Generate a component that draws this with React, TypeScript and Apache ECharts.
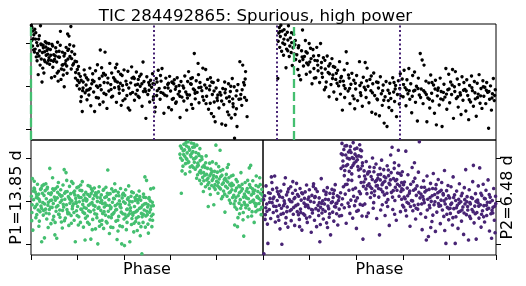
import React, { useEffect, useRef } from "react";
import * as echarts from "echarts";

const TITLE = "TIC 284492865: Spurious, high power";
const P1_LABEL = "P1=13.85 d";
const P2_LABEL = "P2=6.48 d";
const X_NAME = "Phase";
const P1_EPOCHS = [0, 13.85];
const P2_EPOCHS = [6.48, 12.96, 19.44];
const FLUX_TICKS = [-10, 0, 10];
const GREEN = "#44bf70";
const PURPLE = "#482475";

// [time (d), relative flux]
const lightCurve: number[][] = [
[0.02,14.1],[0.05,13.6],[0.1,12.8],[0.15,11.9],[0.2,13.2],[0.25,12.4],[0.3,10.1],[0.35,9.4],[0.4,10.9],[0.45,8.2],[0.5,14.0],[0.55,9.6],[0.6,7.8],[0.65,8.9],[0.7,6.1],[0.75,10.3],[0.8,7.2],[0.85,5.4],[0.9,8.7],[0.95,6.6],[0.08,9.3],[0.18,7.9],[0.28,6.8],[0.38,2.7],[0.48,4.9],[0.58,1.0],[0.68,3.1],[0.78,9.1],[0.88,7.4],[0.98,5.1],[0.12,11.0],[0.22,8.6],[0.32,5.9],[0.42,7.0],[0.52,9.8],[0.62,4.2],[0.72,8.0],[0.82,10.0],[0.92,6.0],
[1.02,8.5],[1.06,6.0],[1.1,9.7],[1.15,4.4],[1.2,7.3],[1.25,2.3],[1.3,8.9],[1.35,5.6],[1.4,10.2],[1.45,3.5],[1.5,6.7],[1.55,12.7],[1.6,4.0],[1.65,7.9],[1.7,2.6],[1.75,-0.1],[1.8,5.2],[1.85,9.0],[1.9,3.0],[1.95,6.3],[1.08,2.0],[1.18,5.8],[1.28,7.0],[1.38,3.1],[1.48,8.1],[1.58,1.6],[1.68,5.0],[1.78,7.6],[1.88,4.7],[1.98,8.6],[1.43,1.2],[1.73,3.8],[1.93,12.1],
[2.0,11.6],[2.05,6.9],[2.1,13.8],[2.15,8.0],[2.2,4.9],[2.25,9.3],[2.3,7.4],[2.35,3.2],[2.4,5.7],[2.45,1.4],[2.5,4.6],[2.55,-0.6],[2.6,2.3],[2.65,-2.4],[2.7,-5.8],[2.75,1.0],[2.8,3.8],[2.85,-1.5],[2.9,0.3],[2.95,-3.1],[2.12,4.0],[2.32,5.8],[2.52,2.9],[2.72,-1.0],[2.92,2.0],[2.62,-3.5],[2.42,0.2],
[3.0,1.5],[3.05,-2.0],[3.1,4.2],[3.15,-4.5],[3.2,0.6],[3.25,2.9],[3.3,-1.3],[3.35,-5.8],[3.4,3.6],[3.45,0.1],[3.5,5.0],[3.55,-2.7],[3.6,1.8],[3.65,8.4],[3.7,-0.8],[3.75,2.4],[3.8,-3.6],[3.85,0.9],[3.9,7.9],[3.95,-1.9],[3.12,-0.5],[3.32,1.1],[3.52,-0.2],[3.72,4.3],[3.92,2.6],[3.62,-4.2],[3.82,3.0],
[4.0,-5.1],[4.05,1.9],[4.1,-1.1],[4.15,5.3],[4.2,0.4],[4.25,3.1],[4.3,-2.3],[4.35,2.0],[4.4,-0.3],[4.45,4.3],[4.5,-3.7],[4.55,1.0],[4.6,3.4],[4.65,-1.6],[4.7,0.7],[4.75,-4.4],[4.8,2.5],[4.85,-0.9],[4.9,3.8],[4.95,-2.9],[4.22,-0.7],[4.42,1.5],[4.62,-0.1],[4.82,0.2],[4.52,5.1],[4.72,2.8],
[5.0,1.2],[5.05,-2.1],[5.1,3.5],[5.15,-0.4],[5.2,-5.5],[5.25,0.8],[5.3,4.5],[5.35,-1.4],[5.4,2.1],[5.45,-3.2],[5.5,0.3],[5.55,3.3],[5.6,-0.9],[5.65,1.6],[5.7,-2.6],[5.75,0.0],[5.8,2.8],[5.85,-4.6],[5.9,5.6],[5.95,1.1],[5.12,-5.0],[5.32,1.9],[5.52,-1.8],[5.72,2.3],[5.92,-1.2],[5.62,0.5],
[6.0,-0.6],[6.05,-7.4],[6.1,2.2],[6.15,-1.9],[6.2,0.9],[6.25,-3.6],[6.3,1.4],[6.35,-0.2],[6.4,2.9],[6.45,-2.4],[6.5,0.5],[6.55,-4.8],[6.6,1.8],[6.65,-1.0],[6.7,3.7],[6.75,-0.5],[6.8,-3.0],[6.85,1.2],[6.9,4.1],[6.95,-1.6],[6.22,-0.9],[6.42,0.6],[6.62,-2.1],[6.82,2.5],[6.52,-5.9],
[7.0,-6.2],[7.05,-0.3],[7.1,1.9],[7.15,-2.2],[7.2,0.4],[7.25,-4.9],[7.3,2.3],[7.35,-1.1],[7.4,-5.4],[7.45,0.9],[7.5,-2.8],[7.55,1.5],[7.6,-0.7],[7.65,-3.6],[7.7,2.0],[7.75,-1.8],[7.8,0.2],[7.85,-7.2],[7.9,1.1],[7.95,-2.5],[7.22,-0.4],[7.42,1.0],[7.62,-3.9],[7.82,-1.2],[7.52,0.6],
[8.0,0.1],[8.05,-3.4],[8.1,2.4],[8.15,-1.3],[8.2,-5.5],[8.25,1.1],[8.3,3.4],[8.35,-2.0],[8.4,0.6],[8.45,-4.2],[8.5,2.0],[8.55,-0.6],[8.6,7.6],[8.65,-2.9],[8.7,1.3],[8.75,-1.4],[8.8,5.3],[8.85,-3.8],[8.9,0.9],[8.95,-0.2],[8.22,-1.9],[8.42,1.8],[8.62,-0.9],[8.82,2.7],[8.52,-5.1],
[9.0,-1.0],[9.05,4.2],[9.1,-3.2],[9.15,0.3],[9.2,3.9],[9.25,-2.3],[9.3,1.6],[9.35,-5.3],[9.4,-0.8],[9.45,2.0],[9.5,-6.3],[9.55,-1.9],[9.6,0.9],[9.65,-3.6],[9.7,-8.2],[9.75,-0.4],[9.8,-2.7],[9.85,1.4],[9.9,-5.0],[9.95,-1.4],[9.22,-4.0],[9.42,0.1],[9.62,-7.0],[9.82,-3.3],[9.52,1.0],
[10.0,-2.0],[10.05,-8.7],[10.1,-0.5],[10.15,-4.2],[10.2,1.0],[10.25,-9.0],[10.3,-2.7],[10.35,-5.9],[10.4,0.6],[10.45,-3.5],[10.5,-1.2],[10.55,-7.3],[10.6,1.8],[10.65,-4.7],[10.7,-0.1],[10.75,-6.5],[10.8,-2.2],[10.85,-9.3],[10.9,0.4],[10.95,-3.0],[10.22,-1.5],[10.42,-6.6],[10.62,-2.9],[10.82,-5.2],[10.52,0.0],[10.72,-12.0],
[11.0,5.7],[11.05,-1.9],[11.1,-4.4],[11.15,4.9],[11.2,0.9],[11.25,-2.6],[11.3,3.4],[11.35,-3.2],[11.38,-7.0],[11.12,-0.8],[11.28,1.7],
[0.04,10.6],[0.14,8.4],[0.24,10.9],[0.34,7.6],[0.44,11.7],[0.54,6.3],[0.64,9.5],[0.74,5.7],[0.84,8.3],[0.94,9.9],[1.04,7.2],[1.14,9.3],[1.24,6.2],[1.34,8.0],[1.44,6.8],[1.54,9.5],[1.64,4.9],[1.74,7.0],[1.84,5.9],[1.94,8.3],[2.04,9.6],[2.14,6.4],[2.24,5.2],[2.34,1.9],[2.44,3.9],[2.54,0.9],[2.64,1.4],[2.74,-0.4],[2.84,2.6],[2.94,-0.9],
[3.04,-0.8],[3.24,1.4],[3.44,-2.6],[3.64,0.2],[3.84,-1.6],[4.04,0.8],[4.24,-2.5],[4.44,1.2],[4.64,-0.6],[4.84,-3.3],[5.04,0.4],[5.24,-1.7],[5.44,1.8],[5.64,-2.3],[5.84,0.6],[6.04,-1.2],[6.24,0.3],[6.44,-3.1],[6.64,1.0],[6.84,-1.4],[7.04,-2.0],[7.24,0.7],[7.44,-3.0],[7.64,-0.1],[7.84,-2.3],[8.04,-0.4],[8.24,-2.7],[8.44,0.5],[8.64,-1.6],[8.84,-0.3],[9.04,-2.4],[9.24,-0.4],[9.44,-3.9],[9.64,-1.1],[9.84,-2.0],[10.04,-3.4],[10.24,-0.7],[10.44,-2.4],[10.64,-4.0],[10.84,-1.0],[11.04,-2.9],[11.24,0.3],
[13.0,1.8],[13.02,10.4],[13.05,12.3],[13.08,13.6],[13.1,9.0],[13.13,11.5],[13.16,14.1],[13.2,8.1],[13.23,12.8],[13.26,10.0],[13.3,7.2],[13.33,13.1],[13.36,9.7],[13.4,11.9],[13.43,4.3],[13.46,8.6],[13.5,12.5],[13.53,10.7],[13.56,14.0],[13.6,6.9],[13.63,9.3],[13.66,11.2],[13.7,7.8],[13.73,10.1],[13.76,4.8],[13.8,8.9],[13.83,12.0],[13.86,7.5],[13.9,9.6],[13.94,6.2],
[14.0,7.3],[14.05,3.9],[14.1,9.4],[14.15,5.8],[14.2,1.5],[14.25,8.2],[14.3,13.0],[14.35,4.7],[14.4,6.9],[14.45,10.6],[14.5,2.8],[14.55,7.7],[14.6,5.0],[14.65,9.9],[14.7,3.3],[14.75,6.4],[14.8,0.6],[14.85,8.5],[14.9,4.1],[14.95,6.0],[15.0,2.0],[15.05,9.0],[15.1,4.9],[15.15,7.1],[15.2,0.9],[14.12,2.5],[14.32,6.2],[14.52,5.4],[14.72,8.8],[14.92,1.9],[15.12,3.6],
[15.25,9.9],[15.3,5.5],[15.35,2.1],[15.4,6.6],[15.45,-0.8],[15.5,4.0],[15.55,1.0],[15.6,7.0],[15.65,3.2],[15.7,-2.4],[15.75,5.2],[15.8,0.4],[15.85,6.4],[15.9,2.6],[15.95,-1.3],[16.0,4.4],[16.05,1.6],[16.1,-3.0],[16.15,3.7],[16.2,0.1],[16.25,5.7],[16.3,-1.8],[16.35,2.3],[16.4,-5.5],[16.45,1.2],[16.5,3.8],[16.55,-0.5],[16.6,8.0],[15.32,3.0],[15.52,-0.2],[15.72,2.9],[15.92,4.6],[16.12,0.7],[16.32,2.0],[16.52,-2.6],
[13.12,12.7],[13.32,10.9],[13.52,8.2],[13.72,12.4],[13.92,10.6],[14.08,8.9],[14.28,6.8],[14.48,8.0],[14.68,5.6],[14.88,7.0],[15.08,5.9],[15.28,4.3],[15.48,6.0],[15.68,4.7],[15.88,1.8],[16.08,3.0],[16.28,1.1],[16.48,0.2],
[16.65,5.3],[16.7,-1.1],[16.75,1.9],[16.8,-4.0],[16.85,0.5],[16.9,3.0],[16.95,-2.2],[17.0,1.4],[17.05,-5.2],[17.1,-0.6],[17.15,2.5],[17.2,-3.3],[17.3,5.7],[17.35,-1.5],[17.4,0.8],[17.45,-4.6],[17.5,2.1],[17.55,-0.2],[17.6,5.5],[17.65,-2.6],[17.7,4.2],[17.75,0.0],[17.8,-3.8],[17.85,1.6],[17.9,-1.0],[17.95,-6.0],[18.0,0.6],[18.05,3.1],[18.1,-2.1],[18.15,-6.4],[18.2,1.0],[18.25,-3.1],[18.3,-0.4],[18.35,-6.8],[18.4,2.2],[18.45,-1.7],[18.5,-4.4],[18.55,0.3],[18.6,-8.5],[18.65,-2.4],[18.7,1.1],[18.75,-9.3],[18.8,-0.9],[18.85,-4.9],[18.9,0.7],[18.95,-2.8],[19.0,-5.6],[19.05,2.0],[19.1,-1.3],[19.15,-3.5],[19.2,0.2],[19.25,-7.0],[19.3,-1.9],[19.35,1.3],[19.4,-4.1],[19.45,2.9],[16.72,2.6],[17.02,-2.9],[17.32,0.2],[17.62,-0.8],[17.92,2.4],[18.22,-2.9],[18.52,-1.0],[18.82,-3.3],[19.12,0.9],[19.42,-0.5],
[19.55,1.7],[19.6,-2.4],[19.65,3.7],[19.7,-0.3],[19.75,-4.5],[19.8,1.5],[19.85,-1.7],[19.9,4.1],[19.95,-3.0],[20.0,0.6],[20.05,-6.1],[20.1,2.5],[20.15,-1.1],[20.2,3.3],[20.25,-3.7],[20.3,0.0],[20.35,-8.0],[20.4,1.9],[20.45,-2.0],[20.5,7.6],[20.55,-0.6],[20.6,6.1],[20.65,-4.0],[20.7,4.9],[20.75,-1.4],[20.8,1.2],[20.85,-8.2],[20.9,-2.7],[20.95,0.8],[21.0,-5.0],[21.05,2.6],[21.1,-1.6],[21.15,-3.4],[21.2,0.3],[21.25,-6.2],[21.3,1.4],[21.35,-8.9],[21.4,-2.2],[21.45,-0.4],[21.5,-4.3],[21.55,1.9],[21.6,-1.2],[21.65,-9.3],[21.7,-3.1],[21.75,0.5],[21.8,-2.5],[21.85,4.1],[21.9,-5.3],[21.95,-0.8],[22.0,2.8],[22.05,-3.8],[22.1,1.0],[22.15,-1.9],[22.2,3.9],[22.25,-7.4],[22.3,-0.1],[22.35,3.4],[22.4,-2.8],[22.45,1.7],[22.5,-4.8],[22.55,0.4],[22.6,-1.5],[22.65,-6.5],[22.7,2.2],[22.75,-3.2],[22.8,0.9],[22.85,-0.7],[22.9,-5.7],[22.95,1.5],[23.0,-2.1],[23.05,-7.7],[23.1,0.2],[23.15,-3.6],[23.2,2.4],[23.25,-1.0],[23.3,-4.6],[23.35,1.1],[23.4,-2.9],[23.45,-6.9],[23.5,0.7],[23.55,-1.8],[23.6,2.7],[23.65,-3.9],[23.7,-0.5],[23.75,-5.1],[23.8,1.3],[23.85,-2.3],[23.9,-0.2],[23.95,-4.0],[24.0,0.9],[24.05,-1.4],[24.1,-9.7],[24.15,-3.0],[24.2,0.1],[24.25,-5.5],[24.3,-1.7],[24.35,1.8],[24.4,-3.3],[24.45,-0.8],
[19.62,0.4],[19.92,-1.0],[20.22,-0.9],[20.52,-2.6],[20.82,-1.9],[21.12,0.9],[21.42,-0.9],[21.72,-1.4],[22.02,-0.6],[22.32,-1.2],[22.62,-2.0],[22.92,-1.1],[23.22,-0.3],[23.52,-2.6],[23.82,-0.1],[24.12,-1.2],[24.42,-2.1],
[16.78,-0.5],[17.08,0.7],[17.38,-2.1],[17.68,1.3],[17.98,-1.5],[18.28,0.9],[18.58,-3.2],[18.88,-1.6],[19.18,-0.6],[19.48,-2.2],[19.78,-0.8],[20.08,-2.3],[20.38,-0.5],[20.68,-1.0],[20.98,-3.0],[21.28,-0.6],[21.58,-2.9],[21.88,-1.8],[22.18,0.3],[22.48,-2.4],[22.78,-0.9],[23.08,-3.1],[23.38,-1.5],[23.68,-2.2],[23.98,-0.9],[24.28,-2.7]
];

// [phase, relative flux] folded on P1
const foldP1: number[][] = [
[0.002,1.2],[0.004,-2.6],[0.006,5.3],[0.008,-6.7],[0.011,0.4],[0.013,3.1],[0.016,-1.5],[0.018,2.2],[0.021,-3.8],[0.023,0.9],[0.026,-0.7],[0.028,4.0],[0.031,-2.0],[0.033,1.7],[0.036,-4.6],[0.038,0.0],[0.041,2.8],[0.043,-1.1],[0.046,-9.4],[0.048,3.6],[0.051,-0.3],[0.053,-3.2],[0.056,1.4],[0.058,-8.5],[0.061,2.5],[0.063,-1.8],[0.066,0.6],[0.068,-4.1],[0.071,3.3],[0.073,-0.9],[0.076,1.9],[0.078,-2.9],[0.081,7.7],[0.083,0.2],[0.086,-5.2],[0.088,2.0],[0.091,-1.4],[0.093,5.5],[0.096,-0.5],[0.098,-3.5],[0.101,1.0],[0.103,-7.8],[0.106,3.0],[0.108,-2.3],[0.111,-8.6],[0.113,0.8],[0.116,-1.0],[0.118,4.4],[0.121,-3.0],[0.123,1.6],[0.126,-0.2],[0.128,2.7],[0.131,-4.8],[0.133,0.3],[0.136,-2.1],[0.138,3.8],[0.141,-1.3],[0.143,7.4],[0.146,0.5],[0.148,-3.9],[0.151,6.7],[0.153,-0.8],[0.156,2.3],[0.158,-2.5],[0.161,1.1],[0.163,-5.6],[0.166,3.5],[0.168,-0.4],[0.171,1.8],[0.173,-3.3],[0.176,0.1],[0.178,-1.7],[0.181,4.2],[0.183,-0.6],[0.186,-4.4],[0.188,2.4],[0.191,-9.4],[0.193,0.7],[0.196,-2.2],[0.198,3.2],[0.201,-1.2],[0.203,1.3],[0.206,-3.6],[0.208,-0.1],[0.211,2.6],[0.213,-4.9],[0.216,0.9],[0.218,-1.9],[0.221,4.6],[0.223,-0.7],[0.226,-6.0],[0.228,1.5],[0.231,-2.8],[0.233,-9.0],[0.236,2.1],[0.238,-1.6],[0.241,0.4],[0.243,-3.4],[0.246,3.7],[0.248,-0.9],[0.251,-5.3],[0.253,1.2],[0.256,-2.4],[0.258,-8.8],[0.261,2.9],[0.263,-0.3],[0.266,-4.2],[0.268,0.6],[0.271,-2.0],[0.273,3.1],[0.276,-1.1],[0.278,-6.4],[0.281,1.7],[0.283,-3.0],[0.286,0.0],[0.288,-9.9],[0.291,2.2],[0.293,-1.4],[0.296,-4.6],[0.298,0.8],
[0.005,-0.8],[0.015,2.9],[0.025,-3.1],[0.035,0.5],[0.045,-1.6],[0.055,3.9],[0.065,-2.7],[0.075,-0.2],[0.085,1.6],[0.095,-4.3],[0.105,0.3],[0.115,2.1],[0.125,-3.7],[0.135,-6.2],[0.145,1.9],[0.155,-1.9],[0.165,0.7],[0.175,4.6],[0.185,-2.6],[0.195,-0.4],[0.205,3.4],[0.215,-1.8],[0.225,0.2],[0.235,-3.9],[0.245,1.6],[0.255,-0.6],[0.265,2.4],[0.275,-2.9],[0.285,1.0],[0.295,-5.8],
[0.009,2.4],[0.019,-1.2],[0.029,0.8],[0.039,-2.4],[0.049,1.9],[0.059,-0.6],[0.069,2.9],[0.079,-1.9],[0.089,0.3],[0.099,2.6],[0.109,-1.3],[0.119,-3.0],[0.129,1.2],[0.139,-0.7],[0.149,2.2],[0.159,-2.9],[0.169,0.4],[0.179,-1.1],[0.189,1.5],[0.199,-3.3],[0.209,0.9],[0.219,2.5],[0.229,-1.4],[0.239,0.1],[0.249,-2.2],[0.259,1.8],[0.269,-0.9],[0.279,2.0],[0.289,-1.6],[0.299,-0.2],
[0.003,-4.5],[0.014,4.7],[0.024,1.6],[0.034,-5.8],[0.044,3.0],[0.054,-2.1],[0.064,4.1],[0.074,-6.1],[0.084,-1.4],[0.094,2.9],[0.104,-4.9],[0.114,3.4],[0.124,-2.0],[0.134,1.3],[0.144,-4.5],[0.154,4.9],[0.164,-2.8],[0.174,-5.1],[0.184,2.1],[0.194,-0.1],[0.204,-5.5],[0.214,3.8],[0.224,-2.5],[0.234,0.7],[0.244,-4.9],[0.254,3.5],[0.264,-6.6],[0.274,1.4],[0.284,-3.8],[0.294,3.4],
[0.301,-2.1],[0.303,1.5],[0.306,-4.4],[0.308,-0.5],[0.311,2.6],[0.313,-6.3],[0.316,-1.3],[0.318,0.9],[0.321,-3.2],[0.323,3.3],[0.326,-0.9],[0.328,-5.0],[0.331,7.3],[0.333,-2.3],[0.336,0.4],[0.338,-7.5],[0.341,1.8],[0.343,-1.7],[0.346,-3.8],[0.348,2.9],[0.351,-0.2],[0.353,-6.1],[0.356,0.7],[0.358,-2.6],[0.361,4.1],[0.363,-1.0],[0.366,-4.6],[0.368,1.3],[0.371,-8.9],[0.373,-0.6],[0.376,2.1],[0.378,-3.5],[0.381,0.1],[0.383,-5.7],[0.386,3.0],[0.388,-1.5],[0.391,-9.9],[0.393,0.8],[0.396,-2.9],[0.398,1.9],[0.401,-4.1],[0.403,-10.3],[0.406,-0.4],[0.408,2.7],[0.411,-6.6],[0.413,-1.9],[0.416,0.5],[0.418,-3.3],[0.421,3.6],[0.423,-0.8],[0.426,-9.4],[0.428,-2.2],[0.431,1.2],[0.433,-5.4],[0.436,-0.1],[0.438,-2.7],[0.441,2.0],[0.443,-7.1],[0.446,-1.2],[0.448,0.9],[0.451,-4.7],[0.453,-2.4],[0.456,1.4],[0.458,-6.8],[0.461,-0.3],[0.463,-3.6],[0.466,2.4],[0.468,-1.6],[0.471,-8.0],[0.473,0.3],[0.476,-2.8],[0.478,-12.2],[0.481,-0.9],[0.483,-4.9],[0.486,1.0],[0.488,-2.0],[0.491,5.7],[0.493,-6.0],[0.496,-0.5],[0.498,4.9],[0.501,-3.1],[0.503,-1.3],[0.506,-7.4],[0.508,0.6],[0.511,-2.5],[0.513,-4.3],[0.516,2.9],[0.518,-1.1],[0.521,-5.9],[0.523,-0.2],[0.526,-3.0],[0.528,3.1],
[0.305,0.2],[0.315,-2.4],[0.325,1.1],[0.335,-3.6],[0.345,-1.4],[0.355,2.3],[0.365,-2.0],[0.375,-6.9],[0.385,-0.7],[0.395,1.6],[0.405,-3.0],[0.415,-1.8],[0.425,0.0],[0.435,-4.0],[0.445,-2.6],[0.455,0.4],[0.465,-5.1],[0.475,-1.4],[0.485,1.7],[0.495,-3.4],[0.505,-0.8],[0.515,-1.9],
[0.309,-2.8],[0.319,-0.4],[0.329,1.9],[0.339,-1.0],[0.349,-3.1],[0.359,0.6],[0.369,-1.9],[0.379,1.3],[0.389,-2.5],[0.399,-0.1],[0.409,-3.7],[0.419,0.8],[0.429,-1.5],[0.439,-3.2],[0.449,0.2],[0.459,-2.1],[0.469,1.1],[0.479,-3.6],[0.489,-0.6],[0.499,-2.3],[0.509,0.9],[0.519,-3.4],[0.527,-1.0],
[0.304,-5.4],[0.314,2.8],[0.324,-4.7],[0.334,1.7],[0.344,-6.0],[0.354,-2.9],[0.364,2.5],[0.374,-4.4],[0.384,-1.2],[0.394,-5.9],[0.404,1.4],[0.414,-4.9],[0.424,-2.9],[0.434,2.2],[0.444,-5.1],[0.454,-3.9],[0.464,0.5],[0.474,-5.9],[0.484,-3.0],[0.494,0.9],[0.504,-5.3],[0.514,0.1],[0.524,-4.4],
[0.648,1.9],
[0.642,11.0],[0.645,10.1],[0.649,12.4],[0.652,9.6],[0.656,11.8],[0.659,13.3],[0.663,10.5],[0.666,8.8],[0.67,12.9],[0.673,11.3],[0.677,13.9],[0.68,9.2],[0.684,12.1],[0.687,10.8],[0.691,13.6],[0.694,8.3],[0.698,11.6],[0.701,9.9],[0.705,12.7],[0.708,7.5],[0.712,10.3],[0.715,13.1],[0.719,8.9],[0.722,11.1],[0.726,6.8],[0.729,9.5],[0.655,8.2],[0.662,12.0],[0.669,10.0],[0.676,9.0],[0.683,11.9],[0.69,10.4],[0.697,12.6],[0.704,9.1],[0.711,11.4],[0.718,6.2],[0.725,10.7],[0.668,13.7],[0.686,8.0],[0.702,13.4],[0.716,8.1],[0.728,12.3],
[0.644,12.9],[0.651,7.1],[0.658,10.9],[0.665,6.4],[0.672,9.8],[0.679,12.6],[0.685,6.9],[0.693,11.2],[0.7,7.9],[0.707,10.0],[0.714,5.4],[0.721,8.4],[0.727,4.9],
[0.731,7.2],[0.734,4.1],[0.737,9.8],[0.74,5.6],[0.743,2.3],[0.746,8.4],[0.749,6.1],[0.752,3.4],[0.755,10.6],[0.758,5.0],[0.761,7.7],[0.764,-1.2],[0.767,4.4],[0.77,8.9],[0.773,1.6],[0.776,6.5],[0.779,3.7],[0.782,9.2],[0.785,5.3],[0.788,-0.8],[0.791,7.0],[0.794,2.8],[0.797,13.1],[0.8,4.7],[0.803,6.8],[0.806,1.9],[0.809,8.1],[0.812,3.2],[0.815,11.9],[0.818,5.8],[0.821,0.6],[0.824,4.0],[0.827,7.4],[0.83,2.4],[0.833,5.1],[0.836,-2.5],[0.839,3.5],[0.842,6.3],[0.845,1.2],[0.848,4.5],[0.851,8.6],[0.854,2.0],[0.857,3.9],[0.86,-0.4],[0.863,5.9],[0.866,2.7],[0.869,0.9],
[0.733,6.6],[0.739,8.0],[0.745,4.8],[0.751,7.9],[0.757,6.3],[0.763,5.4],[0.769,3.0],[0.775,7.5],[0.781,4.9],[0.787,6.0],[0.793,3.9],[0.799,5.7],[0.805,3.6],[0.811,5.2],[0.817,2.9],[0.823,6.1],[0.829,4.3],[0.835,1.7],[0.841,4.9],[0.847,3.1],[0.853,5.5],[0.859,2.2],[0.865,4.2],
[0.736,10.4],[0.744,6.7],[0.753,9.0],[0.762,3.9],[0.771,6.0],[0.78,7.0],[0.789,3.3],[0.798,8.8],[0.807,4.4],[0.816,7.1],[0.826,1.1],[0.837,5.4],[0.846,7.9],[0.855,0.3],[0.864,3.6],
[0.872,3.8],[0.875,-0.6],[0.878,-5.5],[0.881,2.5],[0.884,5.1],[0.887,-1.8],[0.89,-5.9],[0.893,1.3],[0.896,3.6],[0.899,-2.9],[0.902,0.4],[0.905,6.7],[0.908,-0.9],[0.911,2.9],[0.914,-4.3],[0.917,-8.1],[0.92,1.7],[0.923,4.4],[0.926,-1.5],[0.929,0.8],[0.932,3.0],[0.935,-3.6],[0.938,2.1],[0.941,7.8],[0.944,-0.2],[0.947,8.4],[0.95,1.5],[0.953,-2.4],[0.956,4.8],[0.959,0.3],[0.962,-4.9],[0.965,2.6],[0.968,-1.1],[0.971,5.9],[0.974,1.0],[0.977,-2.0],[0.98,3.4],[0.983,-0.5],[0.986,5.5],[0.989,1.9],[0.992,-3.1],[0.995,2.8],[0.998,0.5],
[0.874,1.4],[0.88,0.1],[0.886,3.1],[0.892,-3.8],[0.898,2.0],[0.904,-1.6],[0.91,4.0],[0.916,1.0],[0.922,-0.7],[0.928,2.4],[0.934,4.9],[0.94,-1.8],[0.946,3.3],[0.952,0.0],[0.958,2.2],[0.964,-0.4],[0.97,3.7],[0.976,1.2],[0.982,0.7],[0.988,3.9],[0.994,-1.4],
[0.871,6.1],[0.879,-1.3],[0.889,4.6],[0.897,-0.4],[0.906,2.4],[0.915,-2.6],[0.924,1.2],[0.933,-0.9],[0.942,3.9],[0.951,-3.4],[0.96,1.9],[0.969,-2.4],[0.978,2.3],[0.987,-1.9],[0.996,1.5],[0.883,0.9],[0.901,3.4],[0.919,-0.2],[0.937,0.6],[0.955,2.9],[0.973,-0.6],[0.991,0.2]
];

// [phase, relative flux] folded on P2
const foldP2: number[][] = [
[0.004,-12.2],[0.007,1.3],[0.01,-3.1],[0.013,3.6],[0.016,-0.6],[0.019,-5.3],[0.021,-9.8],[0.024,2.0],[0.027,-1.9],[0.03,0.7],[0.033,-4.0],[0.036,5.7],[0.039,-0.3],[0.041,2.8],[0.044,-2.6],[0.047,1.0],[0.05,5.9],[0.053,-4.8],[0.056,-1.2],[0.059,3.1],[0.061,0.2],[0.064,-3.5],[0.067,1.7],[0.07,-0.9],[0.073,-6.4],[0.076,2.4],[0.079,-1.6],[0.081,-10.0],[0.084,0.9],[0.087,-2.8],[0.09,4.0],[0.093,-0.5],[0.096,5.5],[0.099,-3.8],[0.101,1.5],[0.104,-1.3],[0.107,-6.0],[0.11,2.9],[0.113,0.4],[0.116,-2.2],[0.119,3.4],[0.121,-4.5],[0.124,-0.1],[0.127,1.9],[0.13,-3.0],[0.133,0.6],[0.136,-5.6],[0.139,2.6],[0.141,-1.0],[0.144,4.2],[0.147,-2.4],[0.15,-0.7],[0.153,1.2],[0.156,-4.2],[0.159,3.0],[0.161,-1.8],[0.164,0.3],[0.167,-6.7],[0.17,1.8],[0.173,-2.9],[0.176,-0.4],[0.179,-3.2],[0.181,2.2],[0.184,-0.8],[0.187,3.8],[0.19,-4.9],[0.193,0.5],[0.196,-1.5],[0.199,2.7],[0.201,-3.6],[0.204,0.0],[0.207,-7.2],[0.21,1.4],[0.213,-2.0],[0.216,3.5],[0.219,-0.2],[0.221,-4.4],[0.224,1.1],[0.227,-1.7],[0.23,-5.9],[0.233,2.3],[0.236,-0.9],[0.239,-3.3],[0.241,0.8],[0.244,-9.4],[0.247,-1.4],[0.25,5.3],[0.253,-2.7],[0.256,0.1],[0.259,-4.1],[0.261,2.5],[0.264,-0.6],[0.267,-2.3],[0.27,1.6],[0.273,-5.0],[0.276,3.2],[0.279,-1.1],[0.281,0.4],[0.284,-3.7],[0.287,1.9],[0.29,-7.8],[0.293,-0.3],[0.296,2.8],[0.299,-2.5],[0.301,0.9],[0.304,-4.6],[0.307,-1.2],[0.31,3.9],[0.313,-0.5],[0.316,-2.9],[0.319,1.3],[0.321,-5.5],[0.324,0.2],[0.327,-1.8],
[0.012,-1.5],[0.028,-0.2],[0.043,0.6],[0.058,-2.2],[0.072,1.1],[0.088,-1.0],[0.102,-2.4],[0.118,0.0],[0.132,-1.4],[0.148,1.6],[0.162,-2.6],[0.178,0.7],[0.192,-0.9],[0.208,-1.9],[0.222,0.9],[0.238,-2.1],[0.252,-0.5],[0.268,0.5],[0.282,-1.7],[0.298,-0.1],[0.312,-1.3],[0.326,1.0],
[0.003,0.4],[0.017,-2.3],[0.031,1.9],[0.046,-1.1],[0.062,2.3],[0.077,-3.0],[0.091,0.1],[0.106,2.2],[0.122,-1.9],[0.137,0.9],[0.152,-3.1],[0.166,2.0],[0.182,-1.2],[0.197,1.0],[0.212,-2.7],[0.226,2.9],[0.242,-0.3],[0.257,-1.9],[0.271,2.1],[0.286,-2.9],[0.302,1.8],[0.317,-0.4],[0.328,-3.4],
[0.009,-4.2],[0.038,4.4],[0.068,-4.4],[0.097,-5.1],[0.128,4.6],[0.157,-5.9],[0.187,-3.9],[0.217,4.1],[0.246,-5.4],[0.277,-6.1],[0.306,2.6],
[0.335,7.7],[0.339,13.5],[0.343,9.4],[0.347,12.1],[0.351,7.2],[0.355,10.8],[0.359,13.0],[0.363,8.6],[0.367,11.5],[0.371,9.9],[0.375,12.8],[0.379,7.9],[0.383,10.2],[0.387,13.7],[0.391,8.9],[0.395,11.0],[0.399,9.3],[0.403,12.4],[0.407,8.1],[0.411,10.6],[0.415,13.2],[0.419,7.6],[0.423,11.8],[0.427,9.0],[0.341,10.9],[0.357,8.3],[0.373,11.9],[0.389,10.0],[0.405,9.7],[0.421,10.4],[0.349,6.0],[0.381,6.4],[0.413,5.8],
[0.336,11.1],[0.344,8.2],[0.352,12.9],[0.362,10.1],[0.37,7.0],[0.378,11.4],[0.386,8.4],[0.394,12.2],[0.402,10.5],[0.41,7.3],[0.418,12.0],[0.426,8.3],
[0.333,2.0],[0.337,-3.3],[0.341,0.6],[0.345,3.4],[0.349,-1.5],[0.353,1.7],[0.357,-5.1],[0.361,4.0],[0.365,-0.4],[0.369,2.6],[0.373,-2.8],[0.377,0.3],[0.381,4.9],[0.385,-3.9],[0.389,1.2],[0.393,-1.0],[0.397,3.1],[0.401,-6.3],[0.405,0.8],[0.409,-2.1],[0.413,2.3],[0.417,-0.7],[0.421,4.4],[0.425,-3.4],[0.429,-8.8],[0.366,5.0],[0.398,0.1],
[0.338,-0.8],[0.354,3.9],[0.37,-1.2],[0.386,2.8],[0.402,-2.3],[0.418,1.8],[0.428,-0.9],
[0.431,3.5],[0.434,7.1],[0.437,-0.6],[0.44,5.2],[0.443,9.3],[0.446,1.8],[0.449,6.4],[0.452,-2.7],[0.455,4.1],[0.458,8.0],[0.461,0.9],[0.464,5.8],[0.467,3.0],[0.47,10.1],[0.473,-1.6],[0.476,6.9],[0.479,2.4],[0.482,4.6],[0.485,8.7],[0.488,-4.0],[0.491,3.7],[0.494,6.2],[0.497,1.0],[0.5,-7.8],[0.503,5.0],[0.506,2.8],[0.509,9.6],[0.512,-0.8],[0.515,4.3],[0.518,7.4],[0.521,1.5],[0.524,-3.3],[0.527,5.5],[0.53,3.2],[0.533,8.3],[0.536,0.4],[0.539,6.0],[0.542,-5.6],[0.545,3.9],[0.548,10.8],[0.551,2.1],[0.554,12.6],[0.557,-1.9],[0.56,5.3],[0.563,7.7],[0.566,0.2],[0.569,4.8],[0.572,-4.4],[0.575,2.6],[0.578,6.6],[0.581,11.9],[0.584,1.2],[0.587,3.6],[0.59,-2.4],[0.593,6.1],[0.596,2.9],[0.599,-0.9],
[0.433,4.5],[0.442,2.9],[0.451,6.8],[0.46,3.4],[0.469,5.1],[0.478,1.4],[0.487,4.9],[0.496,3.0],[0.505,6.3],[0.514,2.2],[0.523,4.7],[0.532,1.9],[0.541,4.2],[0.55,6.7],[0.559,2.5],[0.568,3.3],[0.577,4.0],[0.586,6.5],[0.595,4.4],[0.445,-3.5],[0.475,-0.3],[0.505,-2.0],[0.535,-1.2],[0.565,-3.0],[0.595,0.5],
[0.436,5.9],[0.448,3.7],[0.457,6.9],[0.466,2.0],[0.477,7.9],[0.486,3.6],[0.493,5.4],[0.502,7.7],[0.511,3.9],[0.52,5.8],[0.529,-0.2],[0.538,7.3],[0.547,5.0],[0.556,1.0],[0.564,9.0],[0.574,5.1],[0.583,8.4],[0.592,2.3],[0.598,6.9],
[0.601,2.7],[0.604,-1.3],[0.607,4.5],[0.61,0.6],[0.613,11.7],[0.616,-3.4],[0.619,3.1],[0.622,6.2],[0.625,-0.5],[0.628,1.9],[0.631,-5.8],[0.634,4.0],[0.637,0.2],[0.64,7.9],[0.643,-2.2],[0.646,2.6],[0.649,-0.9],[0.652,5.4],[0.655,-4.1],[0.658,1.4],[0.661,3.6],[0.664,-1.8],[0.667,6.8],[0.671,13.9],[0.674,0.8],[0.677,-2.9],[0.68,3.3],[0.683,-6.6],[0.686,1.1],[0.689,4.8],[0.692,-0.3],[0.695,2.2],[0.698,-3.7],[0.701,-9.0],[0.704,5.9],[0.707,0.5],[0.71,-8.2],[0.713,2.8],[0.716,-1.5],[0.719,4.2],[0.722,0.0],[0.725,-4.7],[0.728,3.0],[0.731,6.5],[0.734,-0.8],[0.737,1.6],[0.74,-7.0],[0.743,3.9],[0.746,-2.5],[0.749,0.9],[0.752,5.1],[0.755,-1.1],[0.758,2.3],[0.761,-5.2],[0.764,0.3],[0.767,4.4],[0.77,-2.0],[0.773,1.8],[0.776,-3.5],[0.779,7.2],[0.782,-0.6],[0.785,-9.8],[0.788,2.5],[0.791,-1.4],[0.794,3.7],[0.797,-4.3],
[0.606,1.0],[0.618,-0.2],[0.63,2.4],[0.642,0.1],[0.654,2.9],[0.666,-0.7],[0.678,1.7],[0.69,0.4],[0.702,2.6],[0.714,-0.9],[0.726,1.3],[0.738,-0.1],[0.75,2.0],[0.762,-1.0],[0.774,1.5],[0.786,0.6],[0.798,-1.7],[0.65,9.0],[0.72,-6.1],[0.78,-6.8],
[0.603,3.9],[0.612,-2.1],[0.621,1.3],[0.633,-1.2],[0.645,4.6],[0.657,-1.6],[0.669,2.1],[0.681,-0.6],[0.693,3.3],[0.705,-2.0],[0.717,0.9],[0.729,-3.2],[0.741,2.9],[0.753,-0.5],[0.765,2.6],[0.777,0.1],[0.789,-3.0],[0.796,1.3],
[0.801,0.8],[0.804,-2.8],[0.807,3.4],[0.81,-0.4],[0.813,-5.5],[0.816,5.7],[0.819,-1.7],[0.822,1.5],[0.825,-9.8],[0.828,-3.6],[0.831,2.4],[0.834,-0.9],[0.837,-6.3],[0.84,0.5],[0.843,4.1],[0.846,-2.3],[0.849,-0.1],[0.852,-4.6],[0.855,1.9],[0.858,-1.3],[0.861,-7.7],[0.864,3.2],[0.867,-0.6],[0.87,7.4],[0.873,-3.1],[0.876,1.1],[0.879,-2.0],[0.882,-9.0],[0.885,2.7],[0.888,-0.3],[0.891,-4.0],[0.894,0.9],[0.897,-1.9],[0.9,4.6],[0.903,8.4],[0.906,-5.0],[0.909,-1.1],[0.912,1.8],[0.915,-8.8],[0.918,-2.6],[0.921,0.3],[0.924,3.6],[0.927,-3.9],[0.93,7.8],[0.933,-0.8],[0.936,-6.0],[0.939,1.4],[0.942,-2.2],[0.945,4.0],[0.948,-1.0],[0.951,-4.8],[0.954,0.6],[0.957,2.6],[0.96,-3.3],[0.963,-0.2],[0.966,5.0],[0.969,-1.6],[0.972,-6.9],[0.975,1.0],[0.978,-2.9],[0.981,-8.6],[0.984,0.2],[0.987,-1.4],[0.99,3.0],[0.993,-4.4],[0.996,-7.3],[0.999,-0.5],
[0.806,-0.7],[0.818,0.9],[0.83,-1.5],[0.842,-0.4],[0.854,-2.0],[0.866,0.4],[0.878,-1.2],[0.89,-0.6],[0.902,-2.4],[0.914,0.0],[0.926,-1.1],[0.938,-3.0],[0.95,0.7],[0.962,-1.8],[0.974,-0.2],[0.986,-2.7],[0.998,1.2],
[0.803,-1.6],[0.815,-3.8],[0.827,0.2],[0.839,-2.5],[0.851,1.3],[0.863,-2.7],[0.875,-0.1],[0.887,-3.5],[0.899,0.7],[0.911,-2.9],[0.923,-0.3],[0.935,1.9],[0.947,-3.6],[0.959,-0.9],[0.971,1.6],[0.983,-2.1],[0.995,-1.1]
];

const FONT = "DejaVu Sans";

export default function App() {
  const ref = useRef<HTMLDivElement>(null);
  useEffect(() => {
    if (!ref.current) return;
    const chart = echarts.init(ref.current, undefined, { renderer: "svg" });
    const frame = { show: true, borderColor: "#000", borderWidth: 1, backgroundColor: "transparent" };
    const hiddenLabel = { show: false };
    const noLine = { show: false, onZero: false };
    const tick = (vals?: number[]) => ({
      show: true, inside: false, length: 5,
      lineStyle: { color: "#000", width: 1 },
      ...(vals ? { customValues: vals } : {}),
    });
    const nameStyle = { fontFamily: FONT, fontSize: 16, color: "#000" };
    const markLines = [
      ...P1_EPOCHS.map((t) => ({ xAxis: t, lineStyle: { color: GREEN, width: 2.3, type: [9, 4] } })),
      ...P2_EPOCHS.map((t) => ({ xAxis: t, lineStyle: { color: PURPLE, width: 2, type: [2, 2.5] } })),
    ];
    chart.setOption({
      animation: false,
      title: {
        text: TITLE, left: 255.5, top: 7, textAlign: "center", padding: 0,
        textStyle: { fontFamily: FONT, fontSize: 16.6, fontWeight: "normal", color: "#000" },
      },
      grid: [
        { left: 31, top: 24, width: 465, height: 116, ...frame },
        { left: 31, top: 140, width: 232, height: 115, ...frame },
        { left: 263, top: 140, width: 233, height: 115, ...frame },
      ],
      xAxis: [
        { type: "value", gridIndex: 0, min: 0, max: 24.49, axisLine: noLine, axisTick: { show: false }, axisLabel: hiddenLabel, splitLine: { show: false } },
        { type: "value", gridIndex: 1, min: 0, max: 1, interval: 0.2, axisLine: noLine, axisTick: tick(), axisLabel: hiddenLabel, splitLine: { show: false },
          name: X_NAME, nameLocation: "middle", nameGap: 5, nameTextStyle: nameStyle },
        { type: "value", gridIndex: 2, min: 0, max: 1, interval: 0.2, axisLine: noLine, axisTick: tick(), axisLabel: hiddenLabel, splitLine: { show: false },
          name: X_NAME, nameLocation: "middle", nameGap: 5, nameTextStyle: nameStyle },
      ],
      yAxis: [
        { type: "value", gridIndex: 0, min: -12.4, max: 14.4, axisLine: noLine, axisTick: tick(FLUX_TICKS), axisLabel: { show: false, customValues: FLUX_TICKS }, splitLine: { show: false } },
        { type: "value", gridIndex: 1, min: -12.5, max: 14.3, axisLine: noLine, axisTick: tick(FLUX_TICKS), axisLabel: { show: false, customValues: FLUX_TICKS }, splitLine: { show: false },
          name: P1_LABEL, nameLocation: "middle", nameRotate: 90, nameGap: 8, nameTextStyle: nameStyle },
        { type: "value", gridIndex: 2, position: "right", min: -12.5, max: 14.3, axisLine: noLine, axisTick: tick(FLUX_TICKS), axisLabel: { show: false, customValues: FLUX_TICKS }, splitLine: { show: false },
          name: P2_LABEL, nameLocation: "middle", nameRotate: 90, nameGap: 2, nameTextStyle: nameStyle },
      ],
      series: [
        {
          type: "scatter", xAxisIndex: 0, yAxisIndex: 0, data: lightCurve, symbolSize: 3.4,
          itemStyle: { color: "#000", opacity: 1 }, silent: true,
          markLine: { silent: true, symbol: "none", label: { show: false }, data: markLines },
        },
        { type: "scatter", xAxisIndex: 1, yAxisIndex: 1, data: foldP1, symbolSize: 3.6, itemStyle: { color: GREEN, opacity: 1 }, silent: true },
        { type: "scatter", xAxisIndex: 2, yAxisIndex: 2, data: foldP2, symbolSize: 3.6, itemStyle: { color: PURPLE, opacity: 1 }, silent: true },
      ],
    });
    return () => chart.dispose();
  }, []);
  return <div ref={ref} style={{ position: "fixed", left: 0, top: 0, width: 526, height: 286 }} />;
}
